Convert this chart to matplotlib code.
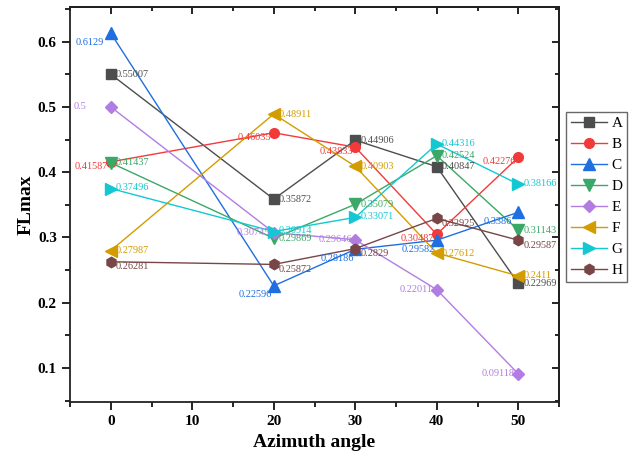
import matplotlib
matplotlib.use("Agg")
import matplotlib.pyplot as plt
from matplotlib.ticker import MultipleLocator

plt.rcParams['font.family'] = ['Liberation Serif', 'DejaVu Serif']

# Azimuth angles and FLmax values per series
angles = [0, 20, 30, 40, 50]
series_names = ['A', 'B', 'C', 'D', 'E', 'F', 'G', 'H']
A = [0.55007, 0.35872, 0.44906, 0.40847, 0.22969]
B = [0.41587, 0.46035, 0.43833, 0.30487, 0.42276]
C = [0.6129, 0.22596, 0.28186, 0.29582, 0.3386]
D = [0.41437, 0.29869, 0.35079, 0.42524, 0.31143]
E = [0.5, 0.30745, 0.29646, 0.22011, 0.09118]
F = [0.27987, 0.48911, 0.40903, 0.27612, 0.2411]
G = [0.37496, 0.30914, 0.33071, 0.44316, 0.38166]
H = [0.26281, 0.25872, 0.2829, 0.32925, 0.29587]
values = [A, B, C, D, E, F, G, H]

colors = ['#4d4d4d', '#f23a3a', '#1f6fe0', '#3aa866', '#b27de2', '#d39c00', '#14c8d2', '#784646']
markers = ['s', 'o', '^', 'v', 'D', '<', '>', 'h']
msizes = [6.5, 7, 8.5, 8.5, 6.5, 8.5, 8.5, 7.5]
# value-label placement in pixels: (dx, dy_down)
label_pos = [(5, 0), (-36, 4.5), (-35, 9), (5, 0),
             (-37, 0), (5, 0), (5, -1), (5, 5)]

fig = plt.figure(figsize=(6.37, 4.61), dpi=100)
ax = fig.add_axes([70 / 637, 1 - 402 / 461, 489 / 637, 395 / 461])

handles = []
for name, vals, c, m, ms, (dx, dy) in zip(series_names, values, colors, markers, msizes, label_pos):
    h, = ax.plot(angles, vals, color=c, lw=1.0, marker=m, markersize=ms,
                 markerfacecolor=c, markeredgecolor=c, label=name, zorder=3)
    handles.append(h)
    for x, y in zip(angles, vals):
        ax.annotate(f"{y:g}", (x, y), xytext=(dx * 0.72, -dy * 0.72),
                    textcoords='offset points', ha='left', va='center',
                    fontsize=7.4, color=c, zorder=4)

ax.set_xlim(-5, 55)
ax.set_ylim(0.048, 0.653)
ax.xaxis.set_major_locator(MultipleLocator(10))
ax.xaxis.set_minor_locator(MultipleLocator(5))
ax.yaxis.set_major_locator(MultipleLocator(0.1))
ax.yaxis.set_minor_locator(MultipleLocator(0.05))

ax.tick_params(which='both', direction='out', width=1.2, top=False, right=False)
ax.tick_params(which='major', length=6, labelsize=11)
ax.tick_params(which='minor', length=3.5)
for lab in ax.get_xticklabels() + ax.get_yticklabels():
    lab.set_fontweight('bold')

for sp in ax.spines.values():
    sp.set_linewidth(1.3)
    sp.set_color('#222222')

# inward ticks on the top and right edges
top = ax.secondary_xaxis('top')
top.xaxis.set_major_locator(MultipleLocator(10))
top.xaxis.set_minor_locator(MultipleLocator(5))
top.tick_params(which='both', direction='in', width=1.2, labeltop=False)
top.tick_params(which='major', length=5)
top.tick_params(which='minor', length=3)
top.spines['top'].set_linewidth(1.3)
right = ax.secondary_yaxis('right')
right.yaxis.set_major_locator(MultipleLocator(0.1))
right.yaxis.set_minor_locator(MultipleLocator(0.05))
right.tick_params(which='both', direction='in', width=1.2, labelright=False)
right.tick_params(which='major', length=5)
right.tick_params(which='minor', length=3)
right.spines['right'].set_linewidth(1.3)

ax.set_xlabel('Azimuth angle', fontsize=14, fontweight='bold', labelpad=4)
ax.set_ylabel('FLmax', fontsize=14, fontweight='bold', labelpad=2)

leg = fig.legend(handles=handles, loc='upper left',
                 bbox_to_anchor=(566 / 637, 1 - 112 / 461),
                 fontsize=11, frameon=True, fancybox=False, handlelength=2.4,
                 handletextpad=0.3, labelspacing=0.48, borderpad=0.3,
                 borderaxespad=0)
leg.get_frame().set_edgecolor('#444444')
leg.get_frame().set_linewidth(1.0)

fig.savefig('out.png', dpi=100)
